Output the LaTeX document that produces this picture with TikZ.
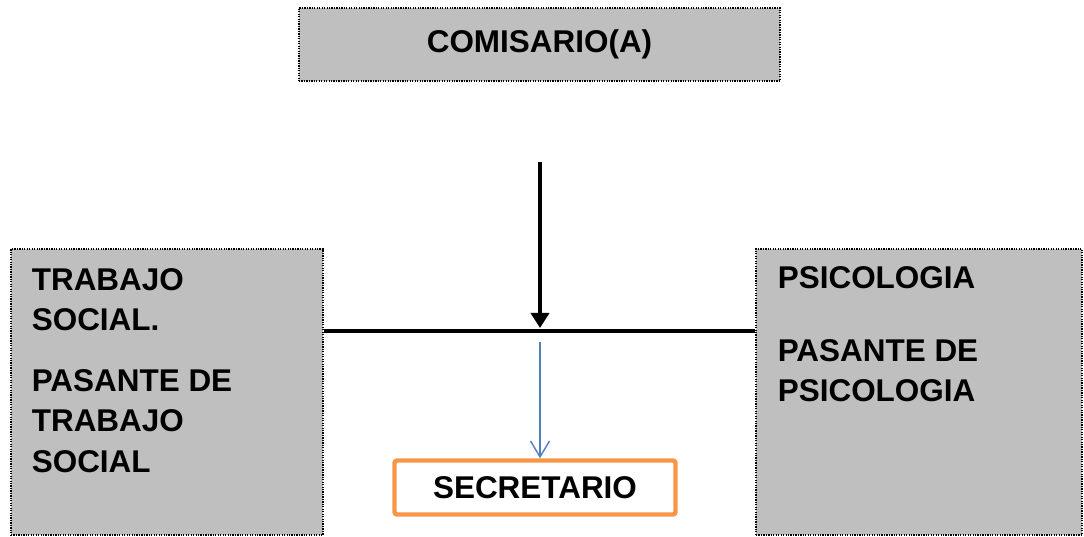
\documentclass[tikz,border=0pt]{standalone}
\usepackage{fontspec}
\setmainfont{Liberation Sans}
\usepackage{xcolor}
\usetikzlibrary{arrows.meta, positioning}
\definecolor{boxgray}{HTML}{BFBFBF}
\definecolor{secorange}{HTML}{F79646}
\definecolor{linkblue}{HTML}{4F81BD}

\begin{document}
\begin{tikzpicture}[
  grayrect/.style={draw, fill=boxgray, line width=0.6pt, dash pattern=on 0.7pt off 0.7pt, inner sep=0pt},
  lbl/.style={font=\fontsize{17.9}{22.8}\selectfont\bfseries, inner sep=0pt, align=left},
  mainline/.style={line width=2.1pt},
  link/.style={draw=linkblue, line width=0.8pt, -{Straight Barb[length=0.32cm, width=0.38cm]}}
]
  \useasboundingbox (0,0) rectangle (21.68,10.74);
  % top box
  \node[grayrect, lbl, minimum width=9.62cm, minimum height=1.46cm] (com) at (10.79,9.85) {COMISARIO(A)};
  % side boxes
  \node[grayrect, minimum width=6.24cm, minimum height=5.72cm] (ts) at (3.34,2.90) {};
  \node[lbl, below right=0.40cm and 0.42cm of ts.north west] (tstxt) {TRABAJO\\SOCIAL.\\[0.42cm]PASANTE DE\\TRABAJO\\SOCIAL};
  \node[grayrect, minimum width=6.52cm, minimum height=5.72cm] (ps) at (18.38,2.90) {};
  \node[lbl, below right=0.36cm and 0.44cm of ps.north west] (pstxt) {PSICOLOGIA\\[0.66cm]PASANTE DE\\PSICOLOGIA};
  % secretario
  \node[lbl, draw=secorange, line width=2.5pt, rounded corners=1.5pt, minimum width=5.62cm, minimum height=1.08cm] (sec) at (10.70,0.99) {SECRETARIO};
  % connectors
  \coordinate (top) at (10.80,7.50);
  \coordinate (jt) at (10.80,4.18);
  \coordinate (J) at (10.80,4.12);
  \coordinate (B) at (10.80,3.90);
  \draw[mainline, -{Triangle[length=0.30cm, width=0.36cm]}] (top) -- (jt);
  \draw[mainline] (ts.east |- J) -- (ps.west |- J);
  \draw[link] (B) -- (B |- sec.north);
\end{tikzpicture}
\end{document}
